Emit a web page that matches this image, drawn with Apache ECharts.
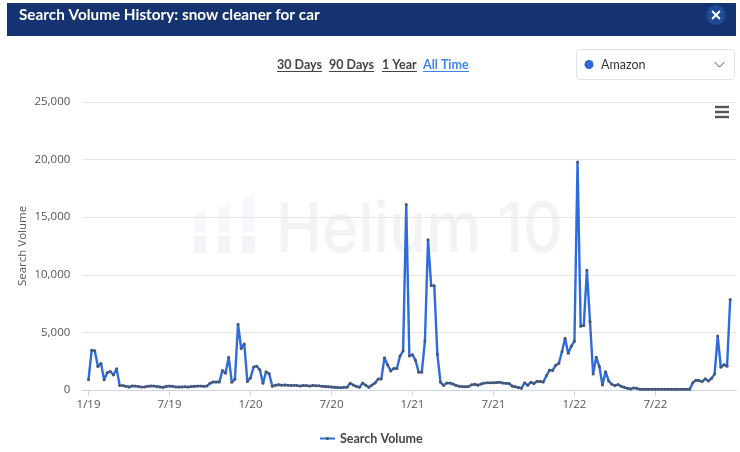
<!DOCTYPE html>
<html>
<head>
<meta charset="utf-8">
<style>
  html, body { margin: 0; padding: 0; background: #fff; }
  #main { width: 740px; height: 452px; }
</style>
<script src="https://cdn.jsdelivr.net/npm/echarts@6/dist/echarts.min.js"></script>
</head>
<body>
<div id="main"></div>
<script>
// weekly search volume
var volume = [
  900, 3450, 3400, 2050, 2300, 900, 1500, 1600, 1300, 1850,
  400, 380, 330, 260, 350, 340, 300, 250, 270, 330,
  350, 340, 300, 260, 240, 320, 340, 320, 270, 260,
  270, 290, 250, 300, 320, 340, 340, 330, 340, 580,
  700, 700, 700, 1700, 1450, 2850, 680, 930, 5700, 3600,
  4000, 730, 1050, 2000, 2070, 1750, 580, 1580, 1400, 320,
  420, 450, 420, 430, 420, 380, 420, 380, 350, 400,
  380, 340, 400, 370, 360, 320, 300, 280, 260, 240,
  220, 200, 230, 240, 580, 430, 320, 230, 610, 420,
  230, 440, 600, 960, 960, 2800, 2200, 1660, 1870, 1870,
  2950, 3400, 16100, 2950, 3070, 2570, 1550, 1550, 4260, 13050,
  9080, 9050, 3100, 670, 400, 600, 600, 520, 400, 330,
  300, 280, 300, 450, 500, 420, 520, 600, 620, 620,
  620, 650, 680, 600, 580, 560, 350, 280, 220, 150,
  620, 410, 680, 560, 760, 730, 700, 1230, 1730, 1700,
  2150, 2320, 3320, 4500, 3200, 3800, 4230, 19800, 5530, 5590,
  10400, 5940, 1380, 2850, 2030, 440, 1590, 790, 500, 380,
  470, 320, 235, 150, 90, 180, 150, 60, 70, 70,
  70, 70, 70, 70, 70, 60, 70, 60, 60, 70,
  60, 60, 60, 60, 620, 850, 820, 730, 970, 790,
  1000, 1380, 4680, 1970, 2200, 2060, 7850
];
var tickWeeks = [0, 26, 52, 78, 104, 130, 156, 182];
var tickLabels = ['1/19', '7/19', '1/20', '7/20', '1/21', '7/21', '1/22', '7/22'];
var yTicks = { min: 0, max: 25000, interval: 5000 };

// two empty slots left and right so the line sits off the axis ends
var padLeft = 2, padRight = 2;
var categories = [];
var seriesData = [];
for (var i = 0; i < padLeft + volume.length + padRight; i++) {
  var week = i - padLeft;
  var pos = tickWeeks.indexOf(week);
  categories.push(pos >= 0 ? tickLabels[pos] : '');
  seriesData.push(week >= 0 && week < volume.length ? volume[week] : null);
}
function isTick(index) {
  return tickWeeks.indexOf(index - padLeft) >= 0;
}

var font = 'Lato';
var myChart = echarts.init(document.getElementById('main'));

function link(text, x, w, color) {
  return [
    { type: 'text', x: x, y: 58, style: { text: text, font: 'bold 12.5px ' + font, fill: color } },
    { type: 'line', shape: { x1: x, y1: 71.5, x2: x + w, y2: 71.5 }, style: { stroke: color, lineWidth: 1 } }
  ];
}

var elements = [
  // watermark
  { type: 'polygon', z: -10, shape: { points: [[194, 216], [206, 209], [206, 232], [194, 232]] }, style: { fill: '#f6f8fb' } },
  { type: 'polygon', z: -10, shape: { points: [[218, 208], [230, 203], [230, 232], [218, 232]] }, style: { fill: '#f6f8fb' } },
  { type: 'polygon', z: -10, shape: { points: [[242, 200], [255, 192], [255, 232], [242, 232]] }, style: { fill: '#f6f8fb' } },
  { type: 'rect', z: -10, shape: { x: 194, y: 236, width: 12, height: 17 }, style: { fill: '#f2f4f7' } },
  { type: 'rect', z: -10, shape: { x: 218, y: 236, width: 12, height: 17 }, style: { fill: '#f2f4f7' } },
  { type: 'rect', z: -10, shape: { x: 242, y: 236, width: 13, height: 17 }, style: { fill: '#f2f4f7' } },
  { type: 'text', z: -10, x: 276, y: 197, scaleX: 0.893, style: { text: 'Helium 10', font: '500 69px Inter', fill: '#f1f3f5' } },
  // header bar
  { type: 'rect', shape: { x: 7, y: 3, width: 729, height: 33 }, style: { fill: '#143370' } },
  { type: 'text', x: 19, y: 7.5, style: { text: 'Search Volume History: snow cleaner for car', font: 'bold 15.3px ' + font, fill: '#fff' } },
  { type: 'circle', shape: { cx: 716, cy: 15, r: 10 }, style: { fill: '#1f4a96' } },
  { type: 'line', shape: { x1: 712, y1: 11, x2: 720, y2: 19 }, style: { stroke: '#fff', lineWidth: 2 } },
  { type: 'line', shape: { x1: 720, y1: 11, x2: 712, y2: 19 }, style: { stroke: '#fff', lineWidth: 2 } },
  // dropdown
  { type: 'rect', shape: { x: 576.5, y: 49.5, width: 158, height: 30, r: 3 }, style: { fill: '#fff', stroke: '#dfe3e8', lineWidth: 1 } },
  { type: 'circle', shape: { cx: 589, cy: 64.5, r: 4.5 }, style: { fill: '#2f68d8' } },
  { type: 'text', x: 601, y: 58, style: { text: 'Amazon', font: '12.5px ' + font, fill: '#333' } },
  { type: 'polyline', shape: { points: [[714.5, 62], [719.5, 67], [724.5, 62]] }, style: { stroke: '#555', lineWidth: 1, fill: 'none' } }
];
// hamburger menu
[107, 112, 117].forEach(function (y) {
  elements.push({ type: 'line', shape: { x1: 715, y1: y, x2: 729, y2: y }, style: { stroke: '#555', lineWidth: 2.4 } });
});
elements = elements.concat(
  link('30 Days', 277, 45, '#444'),
  link('90 Days', 329, 45, '#444'),
  link('1 Year', 382, 35, '#444'),
  link('All Time', 423, 46, '#3f85ee')
);

var option = {
  animation: false,
  backgroundColor: '#fff',
  textStyle: { fontFamily: font },
  graphic: { elements: elements },
  legend: {
    data: ['Search Volume'],
    left: 314,
    top: 427,
    itemWidth: 15,
    itemHeight: 4,
    itemGap: 4,
    textStyle: { fontFamily: font, fontSize: 12.5, fontWeight: 'bold', color: '#444' }
  },
  grid: { left: 82.3, right: 3.6, top: 102, height: 288 },
  xAxis: {
    type: 'category',
    boundaryGap: false,
    data: categories,
    axisLine: { lineStyle: { color: '#ccd6eb' } },
    axisTick: { alignWithLabel: true, length: 6, interval: function (index) { return isTick(index); }, lineStyle: { color: '#ccd6eb' } },
    axisLabel: {
      interval: function (index) { return isTick(index); },
      color: '#555', fontFamily: 'Open Sans', fontSize: 11.5, margin: 9
    },
    splitLine: { show: false }
  },
  yAxis: {
    type: 'value',
    min: yTicks.min,
    max: yTicks.max,
    interval: yTicks.interval,
    name: 'Search Volume',
    nameLocation: 'middle',
    nameGap: 54,
    nameMoveOverlap: false,
    nameTextStyle: { color: '#555', fontFamily: 'Open Sans', fontSize: 11.5 },
    axisLine: { show: false },
    axisTick: { show: false },
    axisLabel: {
      color: '#555', fontFamily: 'Open Sans', fontSize: 11.5, margin: 12,
      formatter: function (v) { return v.toLocaleString('en-US'); }
    },
    splitLine: { lineStyle: { color: '#e6e6e6' } }
  },
  series: [{
    name: 'Search Volume',
    type: 'line',
    data: seriesData,
    symbol: 'circle',
    symbolSize: 3,
    showAllSymbol: true,
    lineStyle: { color: '#2e6bdc', width: 2.4 },
    itemStyle: { color: '#4a5568' }
  }]
};
myChart.setOption(option);
</script>
</body>
</html>
